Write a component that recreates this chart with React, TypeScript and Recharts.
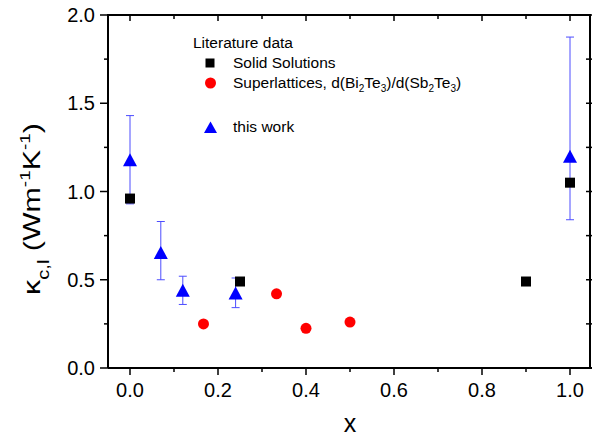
import React from 'react';
import { ScatterChart, Scatter, XAxis, YAxis, ErrorBar } from 'recharts';

// Literature data: solid solutions
const solidX = [0, 0.25, 0.9, 1.0];
const solidY = [0.96, 0.49, 0.49, 1.05];

// Literature data: superlattices d(Bi2Te3)/d(Sb2Te3)
const superX = [0.167, 0.333, 0.4, 0.5];
const superY = [0.25, 0.42, 0.225, 0.26];

// this work (with asymmetric error bars)
const workX = [0, 0.07, 0.12, 0.24, 1.0];
const workY = [1.18, 0.655, 0.44, 0.425, 1.2];
const workErrLow = [0.25, 0.155, 0.08, 0.083, 0.36];
const workErrHigh = [0.25, 0.175, 0.08, 0.085, 0.675];

const xTicks = [0, 0.1, 0.2, 0.3, 0.4, 0.5, 0.6, 0.7, 0.8, 0.9, 1.0];
const yTicks = [0, 0.25, 0.5, 0.75, 1.0, 1.25, 1.5, 1.75, 2.0];
const xDomain = [-0.05, 1.05];
const yDomain = [0, 2];

const solidData = solidX.map((x, i) => ({ x, y: solidY[i] }));
const superData = superX.map((x, i) => ({ x, y: superY[i] }));
const workData = workX.map((x, i) => ({ x, y: workY[i], err: [workErrLow[i], workErrHigh[i]] }));

const W = 604;
const H = 439;
const MARGIN = { top: 15, right: 12, left: 0, bottom: 0 };
const Y_AXIS_W = 108;
const X_AXIS_H = 71;
// plot box, used for the mirrored top/right frame
const PLOT_X = MARGIN.left + Y_AXIS_W;
const PLOT_Y = MARGIN.top;
const PLOT_W = W - MARGIN.left - MARGIN.right - Y_AXIS_W;
const PLOT_H = H - MARGIN.top - MARGIN.bottom - X_AXIS_H;

const FONT = '"Liberation Sans", Arial, sans-serif';

const Square = (p: any) => <rect x={p.cx - 5} y={p.cy - 5} width={10} height={10} fill="#000" />;
const Dot = (p: any) => <circle cx={p.cx} cy={p.cy} r={5.5} fill="#ff0000" />;
const Tri = (p: any) => (
    <polygon
        points={`${p.cx},${p.cy - 6.5} ${p.cx - 7},${p.cy + 6.5} ${p.cx + 7},${p.cy + 6.5}`}
        fill="#0000ff"
    />
);

const BottomTick = (p: any) => {
    const major = p.index % 2 === 0;
    return (
        <g>
            <line x1={p.x} x2={p.x} y1={p.y} y2={p.y + (major ? 7 : 4)} stroke="#000" strokeWidth={1.5} />
            {major && (
                <text x={p.x} y={p.y + 29} textAnchor="middle" fontSize={20} fontFamily={FONT} fill="#000">
                    {p.payload.value.toFixed(1)}
                </text>
            )}
        </g>
    );
};

const LeftTick = (p: any) => {
    const major = p.index % 2 === 0;
    return (
        <g>
            <line x1={p.x} x2={p.x - (major ? 8 : 4)} y1={p.y} y2={p.y} stroke="#000" strokeWidth={1.5} />
            {major && (
                <text x={p.x - 13} y={p.y + 7} textAnchor="end" fontSize={20} fontFamily={FONT} fill="#000">
                    {p.payload.value.toFixed(1)}
                </text>
            )}
        </g>
    );
};

const YTitle = () => (
    <text
        transform="translate(40, 209) rotate(-90)"
        textAnchor="middle"
        fontSize={24}
        fontFamily={FONT}
        fill="#000"
        textLength={172}
        lengthAdjust="spacingAndGlyphs"
    >
        κ
        <tspan fontSize={16} dy={9}>c,l</tspan>
        <tspan dy={-9}> (Wm</tspan>
        <tspan fontSize={15} dy={-10}>-1</tspan>
        <tspan dy={10}>K</tspan>
        <tspan fontSize={15} dy={-10}>-1</tspan>
        <tspan dy={10}>)</tspan>
    </text>
);

const XTitle = () => (
    <text x={350} y={432} textAnchor="middle" fontSize={25} fontFamily={FONT} fill="#000">
        x
    </text>
);

const axisLine = { stroke: '#000', strokeWidth: 2 };

// inward ticks on the top and right edges of the box (same domains as the axes)
function FrameTicks() {
    const fx = (v: number) => PLOT_X + ((v - xDomain[0]) / (xDomain[1] - xDomain[0])) * PLOT_W;
    const fy = (v: number) => PLOT_Y + PLOT_H - ((v - yDomain[0]) / (yDomain[1] - yDomain[0])) * PLOT_H;
    const right = PLOT_X + PLOT_W;
    return (
        <g>
            {xTicks.map((t, i) => (
                <rect key={'t' + i} x={fx(t) - 0.75} y={PLOT_Y} width={1.5} height={i % 2 === 0 ? 6 : 4} fill="#000" />
            ))}
            {yTicks.map((t, i) => (
                <rect key={'r' + i} x={right - 6} y={fy(t) - 0.75} width={6} height={1.5} fill="#000" />
            ))}
        </g>
    );
}

function Overlay() {
    const tx = 233;
    return (
        <svg width={W} height={H} style={{ position: 'absolute', left: 0, top: 0, pointerEvents: 'none' }}>
            <FrameTicks />
            <g fontFamily={FONT} fontSize={15.5} fill="#000">
                <text x={193} y={48}>Literature data</text>
                <rect x={205.5} y={58.5} width={9} height={9} fill="#000" />
                <text x={tx} y={68}>Solid Solutions</text>
                <circle cx={210.5} cy={83} r={5.5} fill="#ff0000" />
                <text x={tx} y={88}>
                    Superlattices, d(Bi<tspan fontSize={10} dy={4}>2</tspan>
                    <tspan dy={-4}>Te</tspan><tspan fontSize={10} dy={4}>3</tspan>
                    <tspan dy={-4}>)/d(Sb</tspan><tspan fontSize={10} dy={4}>2</tspan>
                    <tspan dy={-4}>Te</tspan><tspan fontSize={10} dy={4}>3</tspan>
                    <tspan dy={-4}>)</tspan>
                </text>
                <polygon points="210.5,121.5 204,133 217,133" fill="#0000ff" />
                <text x={tx} y={132}>this work</text>
            </g>
        </svg>
    );
}

export default function App() {
    return (
        <div style={{ position: 'absolute', left: 0, top: 0, width: W, height: H, background: '#fff' }}>
            <ScatterChart width={W} height={H} margin={MARGIN}>
                <XAxis
                    dataKey="x"
                    type="number"
                    domain={xDomain}
                    ticks={xTicks}
                    interval={0}
                    height={X_AXIS_H}
                    tickSize={0}
                    tickMargin={0}
                    tickLine={false}
                    axisLine={axisLine}
                    tick={BottomTick}
                    label={XTitle}
                />
                <YAxis
                    dataKey="y"
                    type="number"
                    domain={yDomain}
                    ticks={yTicks}
                    interval={0}
                    width={Y_AXIS_W}
                    tickSize={0}
                    tickMargin={0}
                    tickLine={false}
                    axisLine={axisLine}
                    tick={LeftTick}
                    label={YTitle}
                />
                <Scatter data={workData} shape={Tri} isAnimationActive={false}>
                    <ErrorBar dataKey="err" direction="y" width={4} stroke="#4d4dff" strokeWidth={1} />
                </Scatter>
                <Scatter data={solidData} shape={Square} isAnimationActive={false} />
                <Scatter data={superData} shape={Dot} isAnimationActive={false} />
            </ScatterChart>
            {/* top and right edges of the box as a plain bordered div */}
            <div
                style={{
                    position: 'absolute',
                    left: PLOT_X - 1,
                    top: PLOT_Y - 1,
                    width: PLOT_W,
                    height: PLOT_H,
                    borderTop: '2px solid #000',
                    borderRight: '2px solid #000',
                    boxSizing: 'border-box',
                    pointerEvents: 'none',
                }}
            />
            <Overlay />
        </div>
    );
}
